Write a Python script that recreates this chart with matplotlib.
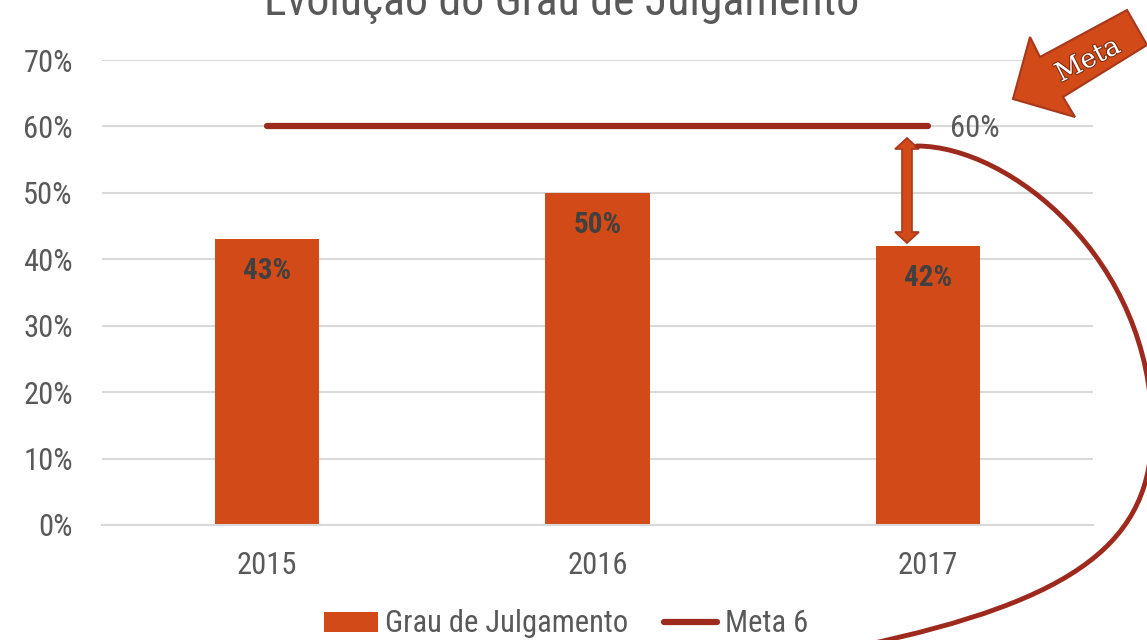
import matplotlib
matplotlib.use("Agg")
import matplotlib.pyplot as plt
from matplotlib import font_manager
from matplotlib.patches import Polygon, PathPatch
from matplotlib.path import Path
import matplotlib.patheffects as pe

# ---------------- data ----------------
categories = ["2015", "2016", "2017"]
grau = [0.43, 0.50, 0.42]
meta = [0.60, 0.60, 0.60]
bar_labels = ["43%", "50%", "42%"]
meta_label = "60%"
yticks = [0, 0.1, 0.2, 0.3, 0.4, 0.5, 0.6, 0.7]
ytick_labels = ["0%", "10%", "20%", "30%", "40%", "50%", "60%", "70%"]
title = "Evolução do Grau de Julgamento"
series_names = ["Grau de Julgamento", "Meta 6"]
arrow_text = "Meta"

# ---------------- style ----------------
names = {f.name for f in font_manager.fontManager.ttflist}
if "Roboto Condensed" in names:
    FONT = ["Roboto Condensed", "DejaVu Sans"]
    scale = 1.0
else:
    FONT = ["Liberation Sans", "DejaVu Sans"]
    scale = 0.82
plt.rcParams["font.family"] = FONT
SERIF = "Roboto Slab" if "Roboto Slab" in names else "DejaVu Serif"

BAR = "#D14A17"
LINE = "#9E2A1E"
TXT = "#595959"
GRID = "#D9D9D9"

W, H = 1147, 640
fig = plt.figure(figsize=(W / 100, H / 100), dpi=100)
fig.patch.set_facecolor("white")

def fx(x):
    return x / W

def fy(y):
    return 1 - y / H

ax = fig.add_axes([fx(102), fy(525), fx(1093) - fx(102), fy(60) - fy(525)])
x = list(range(len(categories)))
bars = ax.bar(x, grau, width=0.315, color=BAR, zorder=2, label=series_names[0])
line, = ax.plot(x, meta, color=LINE, lw=4.5, solid_capstyle="round", zorder=3, label=series_names[1])

ax.set_xlim(-0.5, 2.5)
ax.set_ylim(0, 0.7)
ax.set_yticks(yticks)
ax.set_yticklabels(ytick_labels)
ax.set_xticks(x)
ax.set_xticklabels(categories)
ax.tick_params(axis="both", length=0, labelsize=22 * scale, labelcolor=TXT)
ax.tick_params(axis="y", pad=21)
ax.tick_params(axis="x", pad=19)
ax.grid(axis="y", color=GRID, lw=1.5, zorder=0)
ax.set_axisbelow(True)
for s in ["top", "right", "left"]:
    ax.spines[s].set_visible(False)
ax.spines["bottom"].set_color(GRID)
ax.spines["bottom"].set_linewidth(1.5)

for xi, v, lab in zip(x, grau, bar_labels):
    ax.annotate(lab, (xi, v), xytext=(0, -32), textcoords="offset pixels",
                ha="center", va="center", fontsize=21 * scale, fontweight="bold",
                color="#404040", zorder=4)

ax.annotate(meta_label, (x[-1], meta[-1]), xytext=(22, -2), textcoords="offset pixels",
            ha="left", va="center", fontsize=22 * scale, color=TXT)

# title (clipped at top in the reference)
fig.text(fx(562), fy(15), title, ha="center", va="baseline", fontsize=33 * scale, color=TXT)

# legend
fig.legend(handles=[bars, line], labels=series_names, loc="center",
           bbox_to_anchor=(fx(566), fy(624)), ncol=2, frameon=False,
           fontsize=22 * scale, handlelength=1.75, handleheight=0.62, handletextpad=0.25,
           columnspacing=1.15, labelcolor=TXT)

# double arrow between meta and 2017 bar
cx, top, bot = 907, 138, 243
hw, hl, sw = 12, 11, 5
pts = [(cx, top), (cx + hw, top + hl), (cx + sw, top + hl), (cx + sw, bot - hl),
       (cx + hw, bot - hl), (cx, bot), (cx - hw, bot - hl), (cx - sw, bot - hl),
       (cx - sw, top + hl), (cx - hw, top + hl)]
fig.add_artist(Polygon([(fx(a), fy(b)) for a, b in pts], closed=True, transform=fig.transFigure,
                       facecolor=BAR, edgecolor="#A8381B", lw=1.2, zorder=5))

# big curved line
verts = [(917, 146), (1010, 146), (1152, 260), (1152, 430),
         (1152, 540), (1080, 600), (860, 646)]
codes = [Path.MOVETO, Path.CURVE4, Path.CURVE4, Path.CURVE4,
         Path.CURVE4, Path.CURVE4, Path.CURVE4]
curve = Path([(fx(a), fy(b)) for a, b in verts], codes)
fig.add_artist(PathPatch(curve, transform=fig.transFigure, facecolor="none",
                         edgecolor=LINE, lw=3.5, zorder=5, capstyle="round"))

# "Meta" block arrow
apts = [(1013, 99), (1030, 37), (1040, 57), (1127, 10), (1147, 45), (1063, 97), (1075, 117)]
fig.add_artist(Polygon([(fx(a), fy(b)) for a, b in apts], closed=True, transform=fig.transFigure,
                       facecolor=BAR, edgecolor="#A8381B", lw=1.5, zorder=6))
fig.text(fx(1088), fy(60), arrow_text, ha="center", va="center", rotation=27,
         fontsize=19, family=SERIF, color="white", zorder=7,
         path_effects=[pe.withStroke(linewidth=1.5, foreground="#7A2A10")])

fig.savefig("out.png", dpi=100, facecolor="white")
